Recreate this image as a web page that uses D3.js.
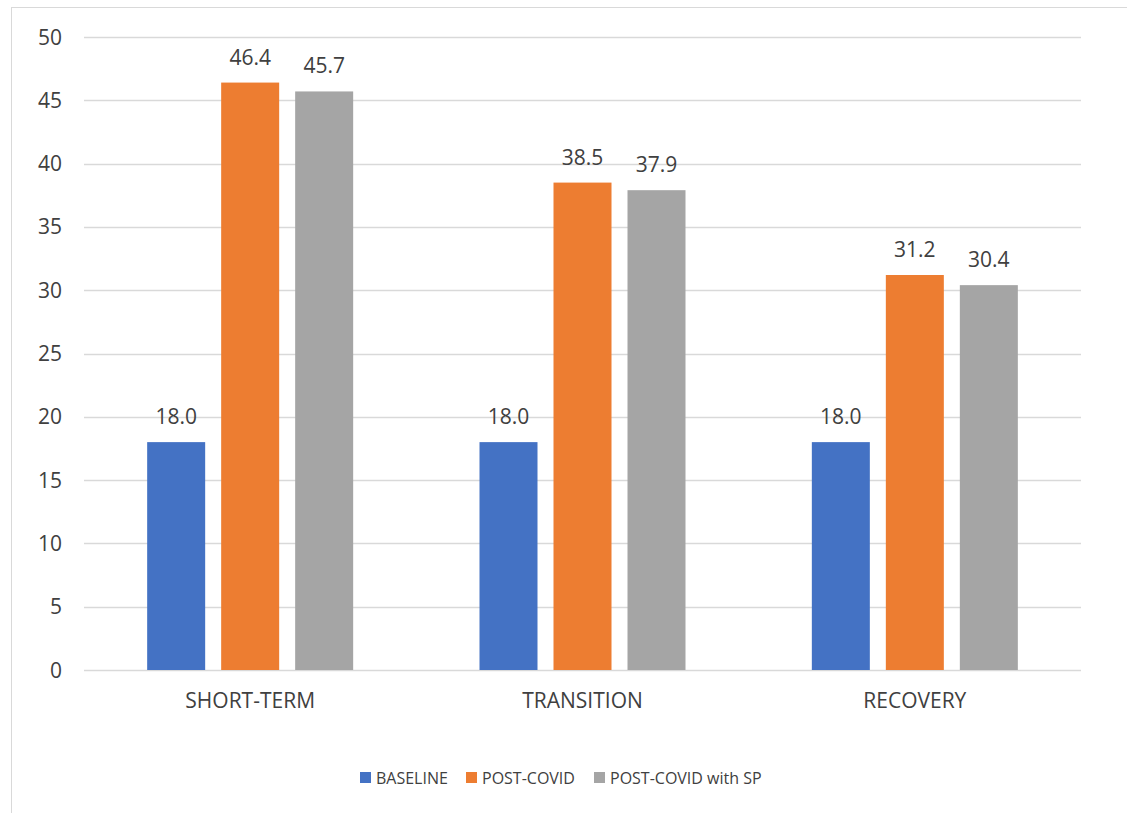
<!DOCTYPE html>
<html>
<head>
<meta charset="utf-8">
<script src="https://cdn.jsdelivr.net/npm/d3@7"></script>
<style>
  html, body { margin: 0; padding: 0; background: #fff; }
  svg { display: block; }
  text { font-family: "Open Sans", "Noto Sans", "Liberation Sans", sans-serif; fill: #404040; }
</style>
</head>
<body>
<svg id="chart" width="1127" height="813"></svg>
<script>
// Scenario categories and the three series values
const categories = ["SHORT-TERM", "TRANSITION", "RECOVERY"];
const seriesNames = ["BASELINE", "POST-COVID", "POST-COVID with SP"];
const baseline = [18.0, 18.0, 18.0];
const postCovid = [46.4, 38.5, 31.2];
const postCovidSP = [45.7, 37.9, 30.4];
const yTicks = [0, 5, 10, 15, 20, 25, 30, 35, 40, 45, 50];
const colors = ["#4472C4", "#ED7D31", "#A5A5A5"];

const seriesValues = [baseline, postCovid, postCovidSP];

const svg = d3.select("#chart");

// Outer chart frame
svg.append("rect")
  .attr("x", 11.5).attr("y", 7.5)
  .attr("width", 1140).attr("height", 820)
  .attr("fill", "none").attr("stroke", "#d9d9d9").attr("stroke-width", 1);

const plot = { left: 84, right: 1081, top: 37, bottom: 670 };

const x = d3.scaleBand().domain(categories).range([plot.left, plot.right]);
const barW = 58, gap = 16;
const x1 = d3.scaleOrdinal().domain([0, 1, 2])
  .range([-(barW * 1.5 + gap), -(barW * 0.5), barW * 0.5 + gap]);
const y = d3.scaleLinear().domain([0, 50]).range([plot.bottom, plot.top]);

// Horizontal gridlines
svg.append("g").selectAll("line").data(yTicks).join("line")
  .attr("x1", plot.left).attr("x2", plot.right)
  .attr("y1", d => Math.round(y(d)) + 0.5).attr("y2", d => Math.round(y(d)) + 0.5)
  .attr("stroke", "#d9d9d9").attr("stroke-width", 1.3);

// Y-axis tick labels
svg.append("g").selectAll("text").data(yTicks).join("text")
  .attr("x", 62).attr("y", d => y(d) + 7.5)
  .attr("text-anchor", "end")
  .attr("font-size", 21)
  .text(d => d);

// Bars
const rows = [];
categories.forEach((c, i) => {
  seriesValues.forEach((vals, s) => rows.push({ cat: c, s, v: vals[i] }));
});

svg.append("g").selectAll("rect").data(rows).join("rect")
  .attr("x", d => x(d.cat) + x.bandwidth() / 2 + x1(d.s))
  .attr("y", d => y(d.v))
  .attr("width", barW)
  .attr("height", d => y(0) - y(d.v))
  .attr("fill", d => colors[d.s]);

// Value labels above bars
svg.append("g").selectAll("text").data(rows).join("text")
  .attr("x", d => x(d.cat) + x.bandwidth() / 2 + x1(d.s) + barW / 2)
  .attr("y", d => y(d.v) - 18)
  .attr("text-anchor", "middle")
  .attr("font-size", 21)
  .text(d => d.v.toFixed(1));

// Category labels
svg.append("g").selectAll("text").data(categories).join("text")
  .attr("x", d => x(d) + x.bandwidth() / 2)
  .attr("y", 708)
  .attr("text-anchor", "middle")
  .attr("font-size", 21)
  .text(d => d);

// Legend
const legendX = [360, 466, 594];
const lg = svg.append("g").selectAll("g").data(seriesNames).join("g")
  .attr("transform", (d, i) => `translate(${legendX[i]},772)`);
lg.append("rect").attr("width", 11).attr("height", 11).attr("fill", (d, i) => colors[i]);
lg.append("text").attr("x", 16).attr("y", 11.5).attr("font-size", 16).text(d => d);
</script>
</body>
</html>
